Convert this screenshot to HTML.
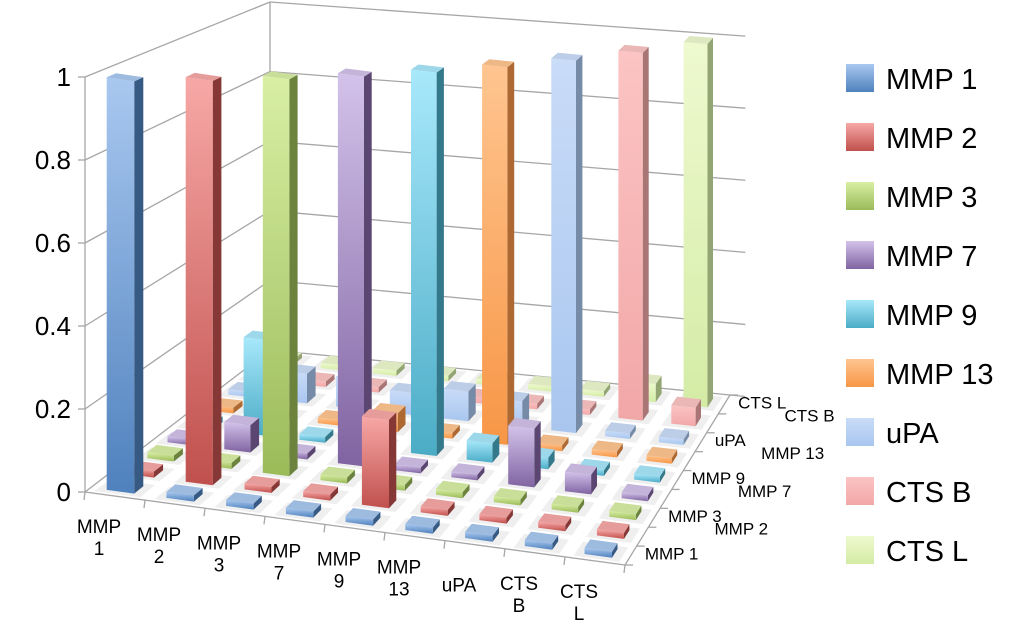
<!DOCTYPE html>
<html><head><meta charset="utf-8"><style>
body{margin:0;background:#fff;}
svg{display:block;font-family:"Liberation Sans",sans-serif;}
</style></head><body>
<svg id="chart" width="1024" height="621" viewBox="0 0 1024 621" xmlns="http://www.w3.org/2000/svg">
<defs id="defs"></defs>
<g id="axes"></g>
<g id="bars"></g>
<g id="labels"></g>
<g id="legend"></g>
</svg>
<script>
const categories = ["MMP 1","MMP 2","MMP 3","MMP 7","MMP 9","MMP 13","uPA","CTS B","CTS L"];
const xLabelLines = [["MMP","1"],["MMP","2"],["MMP","3"],["MMP","7"],["MMP","9"],["MMP","13"],["uPA"],["CTS","B"],["CTS","L"]];
const yTicks = [0,0.2,0.4,0.6,0.8,1];
const yTickLabels = ["0","0.2","0.4","0.6","0.8","1"];
const seriesMMP1  = [1,0.015,0.015,0.015,0.015,0.015,0.015,0.015,0.015];
const seriesMMP2  = [0.015,1,0.015,0.015,0.22,0.015,0.015,0.015,0.015];
const seriesMMP3  = [0.015,0.015,1,0.015,0.015,0.015,0.015,0.015,0.015];
const seriesMMP7  = [0.015,0.07,0.015,1,0.015,0.015,0.15,0.05,0.015];
const seriesMMP9  = [0.015,0.25,0.015,0.015,1,0.05,0.03,0.015,0.015];
const seriesMMP13 = [0.015,0.015,0.015,0.05,0.015,1,0.015,0.015,0.015];
const seriesUPA   = [0.015,0.08,0.08,0.06,0.08,0.07,1,0.015,0.015];
const seriesCTSB  = [0.015,0.015,0.015,0.015,0.015,0.015,0.015,1,0.05];
const seriesCTSL  = [0.015,0.015,0.015,0.015,0.015,0.015,0.015,0.05,1];
const seriesValues = [seriesMMP1,seriesMMP2,seriesMMP3,seriesMMP7,seriesMMP9,seriesMMP13,seriesUPA,seriesCTSB,seriesCTSL];
const colors = ["#4f81bd","#c0504d","#9bbb59","#8064a2","#4bacc6","#f79646","#a9c6ef","#f2a7a7","#d4eca6"];
const lightColors = ["#a9c8f0","#f7a8a6","#d8efa4","#d3c2ea","#a8e8fb","#ffc590","#c9dcf8","#fcc4c4","#eef9cf"];

const NS="http://www.w3.org/2000/svg";
const N=9;
const FL=[85,492],FR=[625,565],BL=[270,350],BR=[730,395];
const HFL=415,HFR=405,HBL=348,HBR=360;
function P(u,v,z){
  const a=u/N,b=v/N;
  const x=(1-a)*(1-b)*FL[0]+a*(1-b)*FR[0]+(1-a)*b*BL[0]+a*b*BR[0];
  const y=(1-a)*(1-b)*FL[1]+a*(1-b)*FR[1]+(1-a)*b*BL[1]+a*b*BR[1];
  const h=(1-a)*(1-b)*HFL+a*(1-b)*HFR+(1-a)*b*HBL+a*b*HBR;
  return [x,y-z*h];
}
function mk(tag,attrs,parent){const e=document.createElementNS(NS,tag);for(const k in attrs)e.setAttribute(k,attrs[k]);parent.appendChild(e);return e;}
function pts(a){return a.map(p=>p[0].toFixed(1)+","+p[1].toFixed(1)).join(" ");}
const defs=document.getElementById("defs");
colors.forEach((c,k)=>{
  const g=mk("linearGradient",{id:"g"+k,x1:0,y1:0,x2:0,y2:1},defs);
  mk("stop",{offset:"0","stop-color":lightColors[k]},g);
  mk("stop",{offset:"1","stop-color":c},g);
});
const axes=document.getElementById("axes");
const line=(a,b,name)=>{const l=mk("line",{x1:a[0],y1:a[1],x2:b[0],y2:b[1],stroke:"#a6a6a6","stroke-width":1.3},axes);return l;};
yTicks.forEach((t,k)=>{
  line(P(0,0,t),P(0,N,t),'left-wall-gridline');
  line(P(0,N,t),P(N+0.3,N,t),'back-wall-gridline');
  line(P(0,0,t),[P(0,0,t)[0]-7,P(0,0,t)[1]],'y-tick');
});
line(P(0,0,0),P(0,0,1),'y-axis-line');
line(P(0,N,0),P(0,N,1),'wall-corner-line');
line(P(0,0,0),P(N,0,0),'x-axis-line');
line(P(N,0,0),P(N,N,0),'depth-axis-line');
for(let i=0;i<=N;i++){const p=P(i,0,0);line(p,[p[0]-1,p[1]+8],'x-tick');}
for(let j=0;j<=N;j++){const p=P(N,j,0);line(p,[p[0]+8,p[1]],'depth-tick');}

const bars=document.getElementById("bars");
const W=0.46;
for(let j=N-1;j>=0;j--){
  for(let i=0;i<N;i++){
    const v=seriesValues[j][i];
    const u0=i+0.5-W/2,u1=i+0.5+W/2,v0=j+0.5-W/2,v1=j+0.5+W/2;
    const g=mk("g",{},bars);
    
    
    mk("polygon",{points:pts([P(u0-0.15,v0-0.15,0),P(u1+0.15,v0-0.15,0),P(u1+0.15,v1+0.15,0),P(u0-0.15,v1+0.15,0)]),fill:"#e4e4e4",opacity:0.6},g);
    mk("polygon",{points:pts([P(u1,v0,0),P(u1,v1,0),P(u1,v1,v),P(u1,v0,v)]),fill:colors[j],style:"filter:brightness(0.7)"},g);
    mk("polygon",{points:pts([P(u0,v0,0),P(u1,v0,0),P(u1,v0,v),P(u0,v0,v)]),fill:"url(#g"+j+")"},g);
    mk("polygon",{points:pts([P(u0,v0,v),P(u1,v0,v),P(u1,v1,v),P(u0,v1,v)]),fill:lightColors[j],style:"filter:brightness(0.93)"},g);
  }
}
const labels=document.getElementById("labels");
yTicks.forEach((t,k)=>{
  const p=P(0,0,t);
  const e=mk("text",{x:p[0]-14,y:p[1]+9,"text-anchor":"end","font-size":26,fill:"#000"},labels);
  e.textContent=yTickLabels[k];
  
  
});
xLabelLines.forEach((ls,i)=>{
  const p=P(i+0.5,0,0);
  const e=mk("text",{x:p[0]-16,y:p[1]+37,"text-anchor":"middle","font-size":19,fill:"#000"},labels);
  
  
  ls.forEach((s,k)=>{const t=mk("tspan",{x:p[0]-16,dy:k?22:0},e);t.textContent=s;});
  if(ls.length===1)e.setAttribute("y",p[1]+47);
});
categories.forEach((c,j)=>{
  const p=P(N,j+0.5,0);
  const e=mk("text",{x:p[0]+(j%2?72:14),y:p[1]+(j%2?-2:4),"font-size":17,fill:"#000"},labels);
  e.textContent=c;
  
  
});
const legend=document.getElementById("legend");
categories.forEach((c,j)=>{
  const y=78+j*59;
  const g=mk("g",{},legend);
  
  
  mk("rect",{x:846,y:y-14,width:28,height:28,fill:"url(#g"+j+")"},g);
  const t=mk("text",{x:886,y:y+11,"font-size":29,fill:"#000"},g);
  t.textContent=c;
});
</script>
</body></html>
